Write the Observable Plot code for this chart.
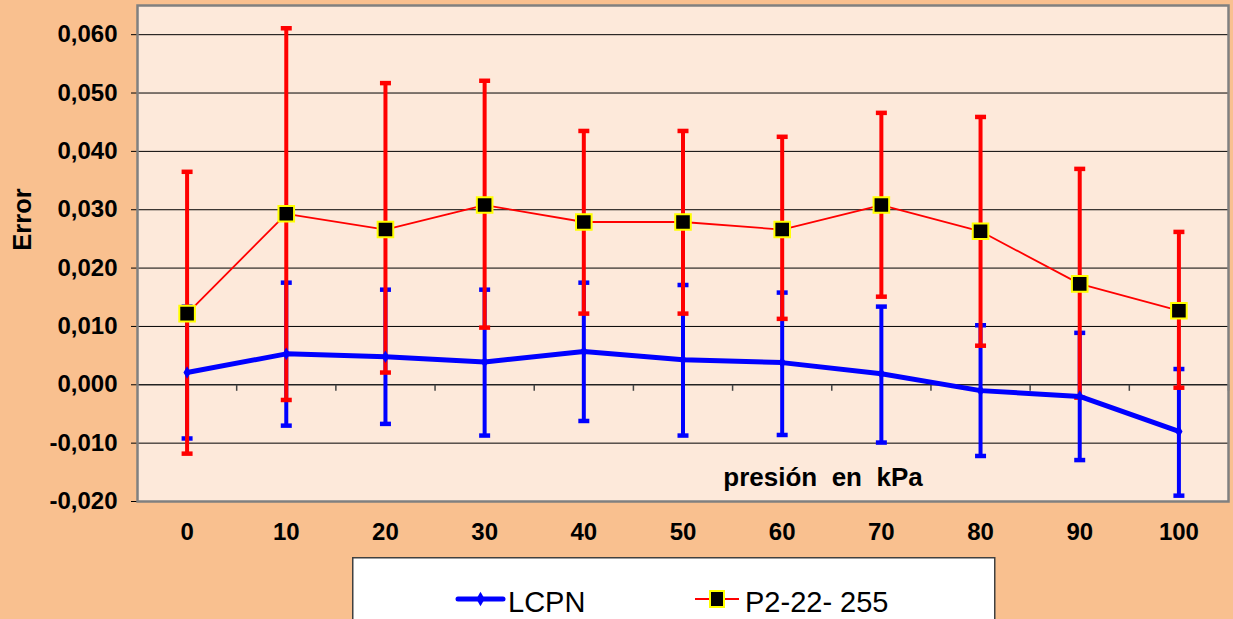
<!DOCTYPE html>
<html>
<head>
<meta charset="utf-8">
<script src="https://cdn.jsdelivr.net/npm/d3@7"></script>
<script src="https://cdn.jsdelivr.net/npm/@observablehq/plot@0.6"></script>
<style>
  html, body { margin: 0; padding: 0; }
  body { width: 1233px; height: 619px; overflow: hidden; background: #F9C08F; position: relative;
         font-family: "Liberation Sans", Arial, sans-serif; }
  #chart svg { display: block; }
  #legend { position: absolute; left: 352px; top: 557px; }
</style>
</head>
<body>
<div id="chart"></div>
<div id="legend"></div>
<script>
// ---- data ----
const pressure = [0, 10, 20, 30, 40, 50, 60, 70, 80, 90, 100];
const lcpnMean = [0.0021, 0.0053, 0.0048, 0.0039, 0.0057, 0.0043, 0.0038, 0.0019, -0.0010, -0.0020, -0.0080];
const lcpnLow  = [-0.0092, -0.0070, -0.0067, -0.0087, -0.0062, -0.0087, -0.0086, -0.0099, -0.0122, -0.0129, -0.0190];
const lcpnHigh = [0.0134, 0.0175, 0.0163, 0.0163, 0.0175, 0.0171, 0.0158, 0.0134, 0.0102, 0.0089, 0.0027];
const p2Mean = [0.0122, 0.0293, 0.0266, 0.0308, 0.0279, 0.0279, 0.0266, 0.0308, 0.0263, 0.0173, 0.0127];
const p2Low  = [-0.0118, -0.0026, 0.0021, 0.0098, 0.0122, 0.0122, 0.0113, 0.0151, 0.0067, -0.0022, -0.0005];
const p2High = [0.0365, 0.0611, 0.0517, 0.0521, 0.0435, 0.0435, 0.0425, 0.0466, 0.0459, 0.0370, 0.0262];
const yTicks = [-0.02, -0.01, 0, 0.01, 0.02, 0.03, 0.04, 0.05, 0.06];
const xBetween = [5, 15, 25, 35, 45, 55, 65, 75, 85, 95, 105];
const seriesNames = ["LCPN", "P2-22- 255"];
const yLabel = "Error";
const xLabel = "presión\u00a0 en\u00a0 kPa";

const lcpn = pressure.map((p, i) => ({x: p, y: lcpnMean[i], lo: lcpnLow[i], hi: lcpnHigh[i]}));
const p2 = pressure.map((p, i) => ({x: p, y: p2Mean[i], lo: p2Low[i], hi: p2High[i]}));

const BLUE = "#0000FF", RED = "#FF0000";
const capSymbol = {draw(ctx) { ctx.moveTo(-5.5, 0); ctx.lineTo(5.5, 0); }};
const tickSymbol = {draw(ctx) { ctx.moveTo(0, 0); ctx.lineTo(0, 6); }};
const fmt = d => d.toFixed(3).replace(".", ",");

const errorBars = (data, color) => [
  Plot.ruleX(data, {x: "x", y1: "lo", y2: "hi", stroke: color, strokeWidth: 4}),
  Plot.dot(data, {x: "x", y: "lo", symbol: capSymbol, stroke: color, strokeWidth: 4.5, fill: "none", r: 5}),
  Plot.dot(data, {x: "x", y: "hi", symbol: capSymbol, stroke: color, strokeWidth: 4.5, fill: "none", r: 5})
];

const chart = Plot.plot({
  width: 1233,
  height: 558,
  marginLeft: 137,
  marginRight: 5,
  marginTop: 5,
  marginBottom: 57,
  style: {background: "transparent", color: "#000", fontFamily: "'Liberation Sans', Arial, sans-serif"},
  x: {type: "linear", domain: [-5, 105]},
  y: {domain: [-0.02, 0.065]},
  marks: [
    Plot.frame({fill: "#FDE9DA"}),
    Plot.ruleY(yTicks.filter(v => v !== 0), {stroke: "#000", strokeWidth: 1}),
    Plot.ruleY([0], {stroke: "#222", strokeWidth: 1.5}),
    Plot.dot(xBetween, {x: d => d, y: () => 0, symbol: tickSymbol, stroke: "#444", strokeWidth: 1.5, fill: "none", r: 5}),
    Plot.axisY({ticks: yTicks, tickFormat: fmt, tickSize: 6, tickPadding: 14, fontSize: 24, fontWeight: "bold", label: null}),
    Plot.axisX({ticks: pressure, tickSize: 0, tickPadding: 21, fontSize: 24, fontWeight: "bold", label: null}),
    Plot.text([yLabel], {frameAnchor: "left", rotate: -90, dx: -115, dy: -34, fontSize: 25.5, fontWeight: "bold", lineAnchor: "middle", textAnchor: "middle"}),
    Plot.text([xLabel], {frameAnchor: "bottom", dx: 140, dy: -24, fontSize: 26, fontWeight: "bold", lineAnchor: "middle", textAnchor: "middle"}),
    ...errorBars(lcpn, BLUE),
    ...errorBars(p2, RED),
    Plot.line(p2, {x: "x", y: "y", stroke: RED, strokeWidth: 1.8}),
    Plot.dot(p2, {x: "x", y: "y", symbol: "square", r: 8.8, fill: "#000", stroke: "#FFFF00", strokeWidth: 2}),
    Plot.line(lcpn, {x: "x", y: "y", stroke: BLUE, strokeWidth: 5}),
    Plot.dot(lcpn, {x: "x", y: "y", symbol: "diamond", r: 3.8, fill: BLUE}),
    Plot.frame({stroke: "#808080", strokeWidth: 2.5})
  ]
});
document.getElementById("chart").appendChild(chart);

// ---- legend (below the plot SVG) ----
const lg = d3.select("#legend").append("svg").attr("width", 645).attr("height", 62);
lg.append("rect").attr("x", 0.75).attr("y", 0.75).attr("width", 642).attr("height", 70)
  .attr("fill", "#fff").attr("stroke", "#404040").attr("stroke-width", 1.5);
lg.append("line").attr("x1", 106).attr("x2", 151).attr("y1", 42).attr("y2", 42)
  .attr("stroke", BLUE).attr("stroke-width", 5).attr("stroke-linecap", "round");
lg.append("path").attr("d", d3.symbol(d3.symbolDiamond, 60)()).attr("transform", "translate(128.5,42)").attr("fill", BLUE);
lg.append("text").attr("x", 156).attr("y", 54.5).attr("font-size", 29).text(seriesNames[0]);
lg.append("line").attr("x1", 343).attr("x2", 387).attr("y1", 42).attr("y2", 42)
  .attr("stroke", RED).attr("stroke-width", 2);
lg.append("rect").attr("x", 358).attr("y", 34).attr("width", 14).attr("height", 16)
  .attr("fill", "#000").attr("stroke", "#FFFF00").attr("stroke-width", 2);
lg.append("text").attr("x", 393).attr("y", 54.5).attr("font-size", 29).text(seriesNames[1]);
lg.selectAll("text").attr("font-family", "'Liberation Sans', Arial, sans-serif").attr("fill", "#000");
</script>
</body>
</html>
